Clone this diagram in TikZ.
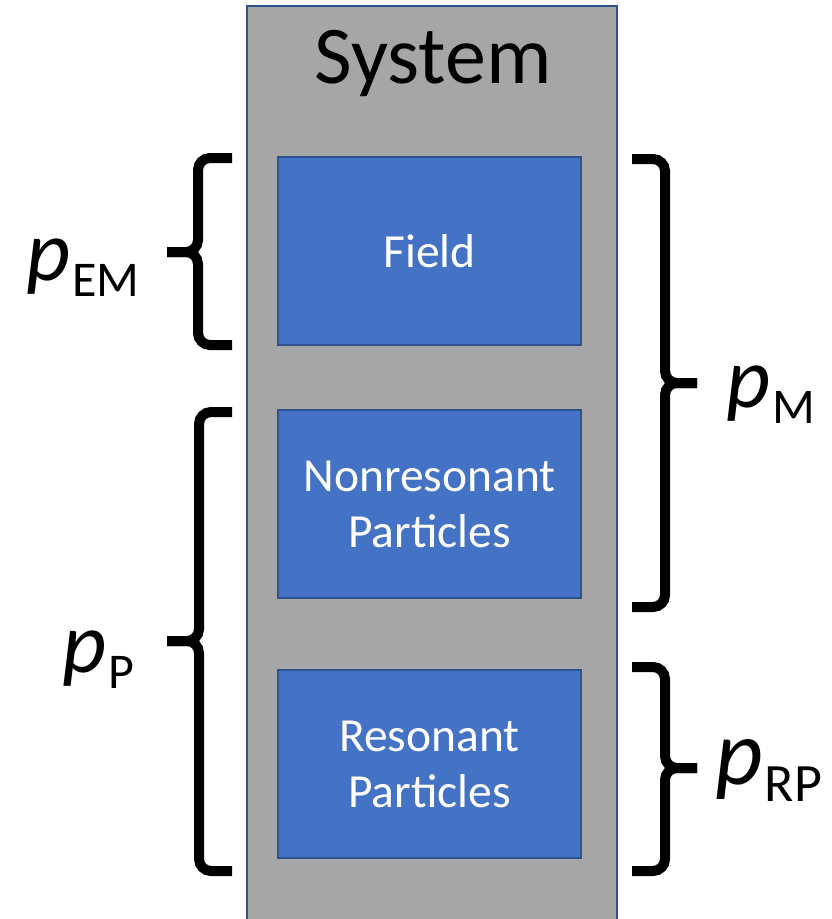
\documentclass[tikz,border=0pt]{standalone}
\usepackage{fontspec}
\setmainfont{Carlito}
\usetikzlibrary{positioning}
\definecolor{sysgray}{HTML}{A6A6A6}
\definecolor{boxblue}{HTML}{4472C4}
\definecolor{edgeblue}{HTML}{2F528F}
\newcommand{\plab}[1]{{\fontsize{86}{86}\selectfont\itshape p}\,\raisebox{-16pt}{\fontsize{50}{50}\selectfont #1}}

\begin{document}
\begin{tikzpicture}[x=1pt,y=-1pt,
  part/.style={draw=edgeblue,line width=2pt,fill=boxblue,text=white,
    minimum width=303pt,minimum height=188pt,align=center,
    font=\fontsize{47.5}{56}\selectfont},
  brace/.style={line width=10pt,rounded corners=12pt},
  plabel/.style={anchor=base west,inner sep=0pt}]
  \useasboundingbox (0,0) rectangle (831,919);
  % system column
  \draw[draw=edgeblue,line width=2pt,fill=sysgray] (247,6) rectangle (617,930);
  \node[anchor=base,inner sep=0pt] (sys) at (433,83) {\fontsize{82}{82}\selectfont System};
  % parts
  \node[part] (field) at (429.5,251) {Field};
  \node[part] (nonres) at (429.5,504) {Nonresonant\\Particles};
  \node[part] (res) at (429.5,764) {Resonant\\Particles};
  % braces, left
  \coordinate (emtip) at (167,252);
  \coordinate (ptip) at (167,641);
  \draw[brace] (232,158) -| (198,252) -- (emtip);
  \draw[brace] (232,345) -| (198,252) -- (emtip);
  \draw[brace] (232,412) -| (199,641) -- (ptip);
  \draw[brace] (232,871) -| (199,641) -- (ptip);
  % braces, right
  \coordinate (mtip) at (697,383);
  \coordinate (rptip) at (697,768);
  \draw[brace] (632,159) -| (665,383) -- (mtip);
  \draw[brace] (632,607) -| (665,383) -- (mtip);
  \draw[brace] (632,667) -| (665,768) -- (rptip);
  \draw[brace] (632,871) -| (665,768) -- (rptip);
  % labels
  \node[plabel] (pem) at (26,280) {\plab{EM}};
  \node[plabel] (pp) at (62,672) {\plab{P}};
  \node[plabel] (pm) at (726,407) {\plab{M}};
  \node[plabel,scale=1.08] (prp) at (715,784) {\plab{RP}};
\end{tikzpicture}
\end{document}
